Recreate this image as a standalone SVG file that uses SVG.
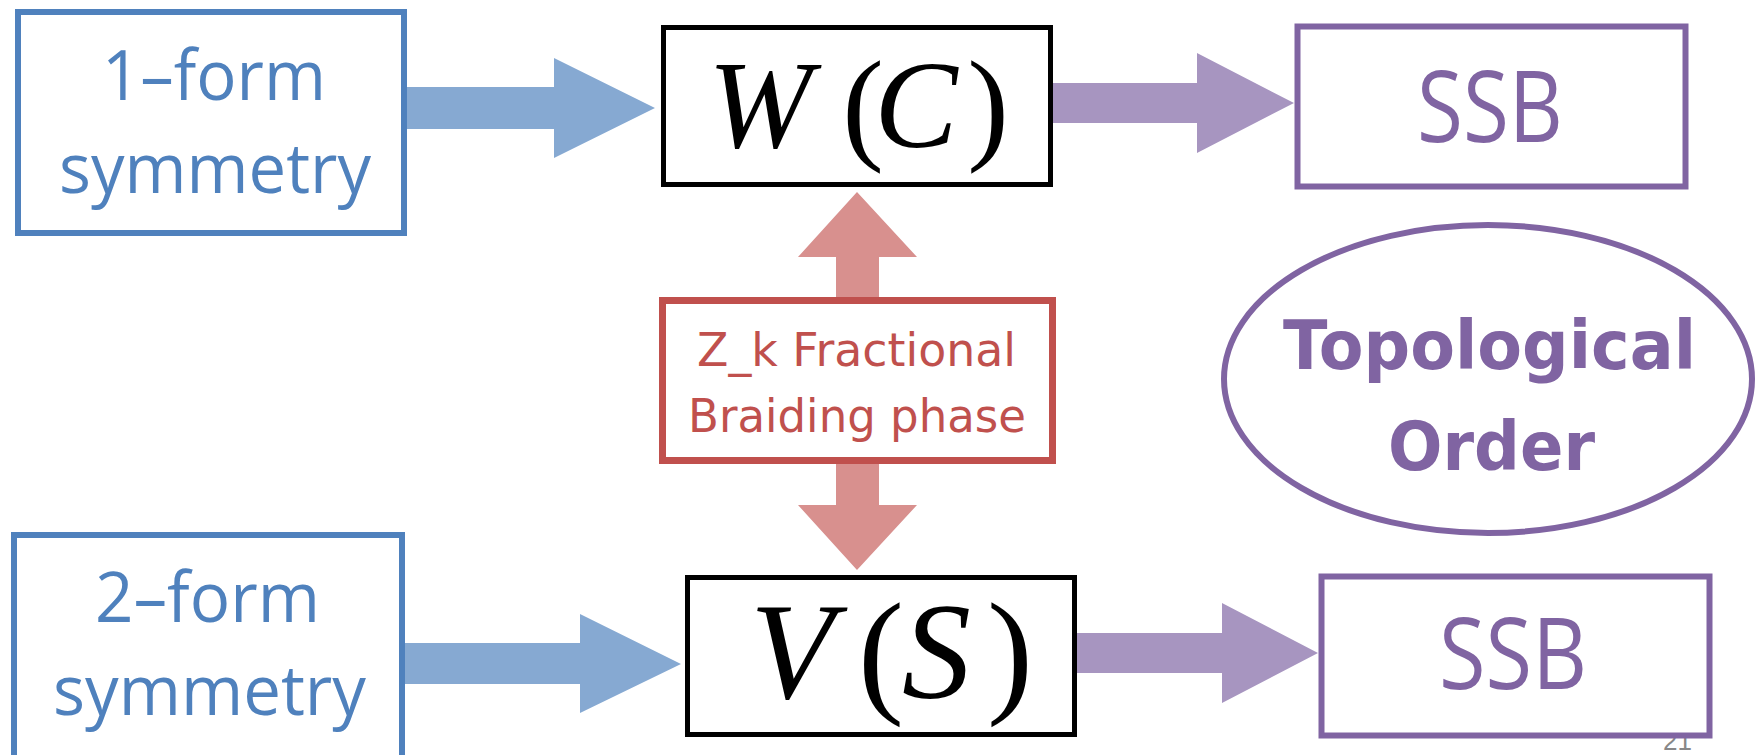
<svg xmlns="http://www.w3.org/2000/svg" width="1760" height="755" viewBox="0 0 1760 755">
<style>
.box{fill:#fff;stroke-width:6}
.blue{stroke:#4F81BD}
.purple{stroke:#8064A2}
.black{stroke:#000;stroke-width:5}
.red{stroke:#C0504D;stroke-width:7}
.sans{font-family:"Open Sans","Noto Sans",sans-serif}
.tb{fill:#4F81BD;font-size:70px}
.tp{fill:#8064A2;font-size:98px}
.tr{fill:#C0504D;font-family:"DejaVu Sans",sans-serif;font-size:47px}
.math{font-family:"Liberation Serif",serif;fill:#000}
.it{font-style:italic}
.topo{fill:#8064A2;font-family:"DejaVu Sans",sans-serif;font-weight:bold;font-size:67px}
</style>
<rect width="1760" height="755" fill="#fff"/>
<text x="1663" y="750" font-family="Liberation Sans,sans-serif" font-size="26" fill="#888">21</text>
<g id="connectors">
<polygon fill="#86A9D2" points="407,87 554,87 554,58 655,108 554,158 554,129 407,129"/>
<polygon fill="#86A9D2" points="405,643 580,643 580,614 681,664 580,713 580,684 405,684"/>
<polygon fill="#A795C0" points="1053,83 1197,83 1197,53 1294,103 1197,153 1197,123 1053,123"/>
<polygon fill="#A795C0" points="1077,633 1222,633 1222,603 1318,653 1222,703 1222,673 1077,673"/>
<polygon fill="#D8908E" points="857,192 917,257 879,257 879,505 917,505 857,570 798,505 836,505 836,257 798,257"/>
</g>
<g id="node-1form">
<rect class="box blue" x="18" y="12" width="386" height="221"/>
<text class="sans tb" x="102" y="100" textLength="224" lengthAdjust="spacingAndGlyphs">1–form</text>
<text class="sans tb" x="59" y="193" textLength="312" lengthAdjust="spacingAndGlyphs">symmetry</text>
</g>
<g id="node-2form">
<rect class="box blue" x="14" y="535" width="388" height="240"/>
<text class="sans tb" x="95" y="622" textLength="225" lengthAdjust="spacingAndGlyphs">2–form</text>
<text class="sans tb" x="53" y="715" textLength="313" lengthAdjust="spacingAndGlyphs">symmetry</text>
</g>
<g id="node-WC">
<rect class="box black" x="663.5" y="27.5" width="387" height="157"/>
<text class="math" x="708" y="147" font-size="125"><tspan class="it">W</tspan><tspan dx="30">(</tspan><tspan class="it" dx="-9.6">C</tspan><tspan dx="9.6">)</tspan></text>
</g>
<g id="node-VS">
<rect class="box black" x="687.5" y="577.5" width="387" height="157"/>
<text class="math" y="698" font-size="138"><tspan x="750" class="it">V</tspan><tspan x="858">(</tspan><tspan x="902" class="it">S</tspan><tspan x="987">)</tspan></text>
</g>
<g id="node-SSB-top">
<rect class="box purple" x="1297.5" y="26.5" width="388" height="160" stroke-width="7"/>
<text class="sans tp" x="1417" y="142" textLength="146" lengthAdjust="spacingAndGlyphs">SSB</text>
</g>
<g id="node-SSB-bottom">
<rect class="box purple" x="1321.5" y="576.5" width="388" height="159" stroke-width="7"/>
<text class="sans tp" x="1439" y="689" textLength="148" lengthAdjust="spacingAndGlyphs">SSB</text>
</g>
<g id="node-braiding">
<rect class="box red" x="662.5" y="300.5" width="390" height="160"/>
<text class="tr" x="697" y="366" textLength="319" lengthAdjust="spacingAndGlyphs">Z_k Fractional</text>
<text class="tr" x="688" y="432" textLength="338" lengthAdjust="spacingAndGlyphs">Braiding phase</text>
</g>
<g id="node-topological">
<ellipse cx="1488" cy="379" rx="264" ry="154" fill="#fff" stroke="#8064A2" stroke-width="6"/>
<text class="topo" x="1283" y="369" textLength="413" lengthAdjust="spacingAndGlyphs">Topological</text>
<text class="topo" x="1388" y="470" textLength="207" lengthAdjust="spacingAndGlyphs">Order</text>
</g>
</svg>
